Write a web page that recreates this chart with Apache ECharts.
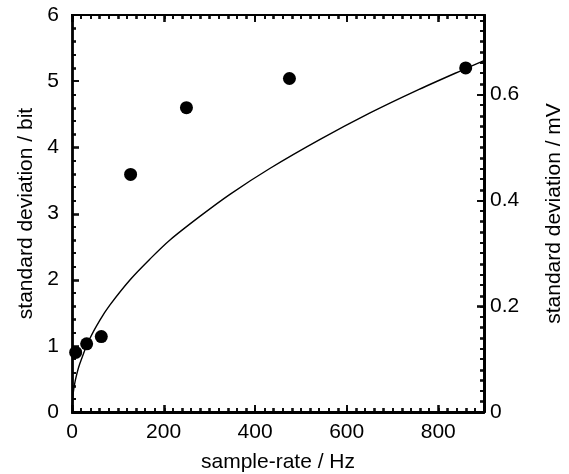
<!DOCTYPE html>
<html>
<head>
<meta charset="utf-8">
<script src="https://cdn.jsdelivr.net/npm/echarts@6/dist/echarts.min.js"></script>
<style>
html,body{margin:0;padding:0;background:#fff}
#wrap{position:relative;width:569px;height:474px;overflow:hidden}
#ticks,#main{position:absolute;left:0;top:0;width:569px;height:474px}
#ticksSmall{position:absolute;left:0;top:0;width:285px;height:237px;transform:scale(2);transform-origin:0 0}
</style>
</head>
<body>
<div id="wrap"><div id="ticks"></div><div id="ticksSmall"></div><div id="main"></div></div>
<script>
// measured points (ADS data rates)
const sampleRates = [8, 32, 64, 128, 250, 475, 860];
const stdDevBits = [0.90, 1.03, 1.14, 3.59, 4.60, 5.04, 5.20];
// fitted curve
const fitX = [0, 2, 7, 17, 39, 61, 83, 127, 170, 214, 280, 345, 432, 542, 651, 750, 860, 900];
const fitY = [0, 0.25, 0.47, 0.73, 1.11, 1.39, 1.62, 2.00, 2.31, 2.60, 2.96, 3.29, 3.68, 4.12, 4.52, 4.85, 5.19, 5.31];
// axis ranges / ticks
const xRange = [0, 900];
const xMajor = 200, xMinor = 20;
const bitRange = [0, 6];
const bitMajor = 1, bitMinorSplit = 5;
const mVRange = [0, 0.75];
const mVMajor = 0.2, mVMinor = 0.02;
const xTitle = 'sample-rate / Hz';
const leftTitle = 'standard deviation / bit';
const rightTitle = 'standard deviation / mV';

const FONT = 'Liberation Sans';
const FS = 21;
const GRID = {left: 72, width: 412, top: 15, height: 397, outerBoundsMode: 'none'};
const txt = () => ({color: '#000', fontFamily: FONT, fontSize: FS});

// ---------- frame and tick marks (k = drawing scale of the layer) ----------
function tickOption(k, bg) {
  const lineSt = () => ({color: '#000', width: 1.8 / k});
  const tickSt = () => ({color: '#000', width: 1.5 / k});
  const tAx = (pos, range, interval, len, extra) => Object.assign({
    type: 'value', position: pos, min: range[0], max: range[1], interval: interval,
    axisLine: {show: true, onZero: false, lineStyle: lineSt()},
    axisTick: {show: true, inside: true, length: len / k, lineStyle: tickSt()},
    axisLabel: {show: false},
    splitLine: {show: false}
  }, extra || {});
  return {
    animation: false,
    backgroundColor: bg,
    grid: {left: GRID.left / k, width: GRID.width / k, top: GRID.top / k, height: GRID.height / k, outerBoundsMode: 'none'},
    xAxis: [
      tAx('bottom', xRange, xMajor, 7),
      tAx('bottom', xRange, xMinor, 4),
      tAx('top', xRange, xMajor, 7),
      tAx('top', xRange, xMinor, 4)
    ],
    yAxis: [
      tAx('left', bitRange, bitMajor, 7, {minorTick: {show: true, splitNumber: bitMinorSplit, length: 4 / k, lineStyle: tickSt()}, minorSplitLine: {show: false}}),
      tAx('right', mVRange, mVMajor, 7),
      tAx('right', mVRange, mVMinor, 4)
    ],
    series: []
  };
}
echarts.init(document.getElementById('ticks')).setOption(tickOption(1, '#fff'));
echarts.init(document.getElementById('ticksSmall'), null, {renderer: 'svg'}).setOption(tickOption(2, 'transparent'));

// ---------- labels, titles and data ----------
function lAx(pos, range, interval, margin, name, gap) {
  return {
    type: 'value', position: pos, min: range[0], max: range[1], interval: interval,
    name: name, nameLocation: 'middle', nameGap: gap, nameTextStyle: txt(),
    axisLine: {show: false, onZero: false},
    axisTick: {show: false},
    axisLabel: {show: true, margin: margin, showMaxLabel: false, color: '#000', fontFamily: FONT, fontSize: FS},
    splitLine: {show: false}
  };
}
echarts.init(document.getElementById('main')).setOption({
  animation: false,
  backgroundColor: 'transparent',
  grid: GRID,
  xAxis: [lAx('bottom', xRange, xMajor, 10, xTitle, 40)],
  yAxis: [
    Object.assign(lAx('left', bitRange, bitMajor, 13, leftTitle, 27), {axisLabel: {show: true, margin: 13, color: '#000', fontFamily: FONT, fontSize: FS}}),
    lAx('right', mVRange, mVMajor, 6, rightTitle, 60)
  ],
  series: [
    {
      type: 'line', xAxisIndex: 0, yAxisIndex: 0,
      data: fitX.map((x, i) => [x, fitY[i]]),
      showSymbol: false, symbol: 'none', smooth: 0.3,
      lineStyle: {color: '#000', width: 1.4}, z: 2
    },
    {
      type: 'scatter', xAxisIndex: 0, yAxisIndex: 0,
      data: sampleRates.map((x, i) => [x, stdDevBits[i]]),
      symbol: 'circle', symbolSize: 13,
      itemStyle: {color: '#000', opacity: 1}, z: 3
    }
  ]
});
</script>
</body>
</html>
